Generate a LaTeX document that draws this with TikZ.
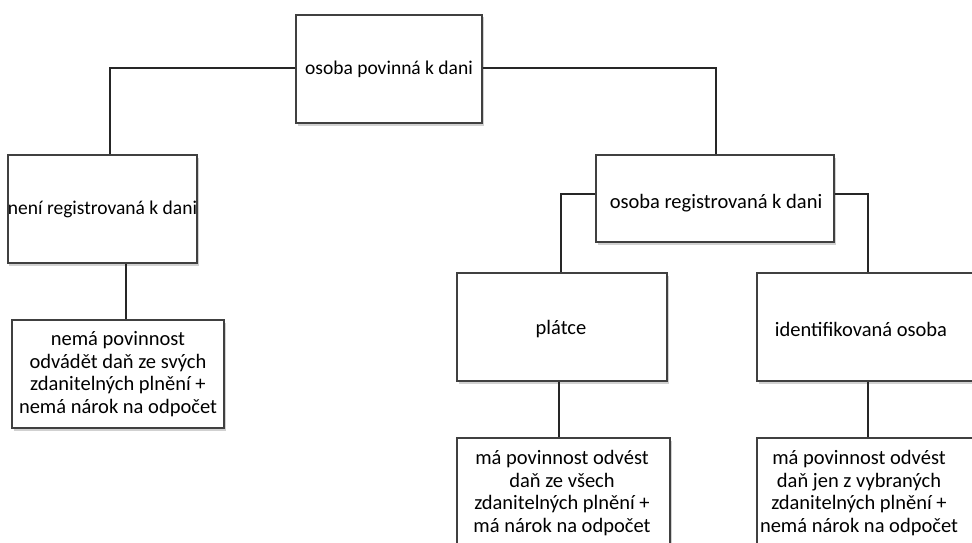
\documentclass[tikz,border=0pt]{standalone}
\usepackage{fontspec}
\setmainfont{Carlito}
\usetikzlibrary{shadows}
\begin{document}
\begin{tikzpicture}[x=1pt,y=-1pt,
  box/.style={draw=black!75, line width=1.8pt, fill=white, rectangle,
    inner sep=0pt, align=center, font=\fontsize{20.5}{22.7}\selectfont,
    drop shadow={shadow xshift=1.5pt, shadow yshift=-2.5pt, opacity=0.4, fill=black!45}},
  link/.style={draw=black!85, line width=1.2pt},
  lbl/.style={font=\fontsize{20.5}{22.7}\selectfont, inner sep=0pt, align=center}]
\useasboundingbox (0,0) rectangle (972,543);
\clip (0,0) rectangle (972,543);
% boxes
\node[box, minimum width=186pt, minimum height=108pt, font=\fontsize{19.5}{22.7}\selectfont] (top) at (389,69) {osoba povinná k dani};
\node[box, minimum width=185pt, minimum height=108pt, font=\fontsize{19.5}{22.7}\selectfont] (neni) at (102.5,209) {není registrovaná k dani};
\node[box, minimum width=212pt, minimum height=108pt] (l2) at (118,374) {nemá povinnost\\odvádět daň ze svých\\zdanitelných plnění +\\nemá nárok na odpočet};
\node[box, minimum width=238pt, minimum height=87pt] (reg) at (715,198.5) {};
\node[lbl] (regt) at (716,203) {osoba registrovaná k dani};
\node[box, minimum width=210pt, minimum height=108pt] (platce) at (562,327) {};
\node[lbl] (platcet) at (561,329) {plátce};
\node[box, minimum width=232pt, minimum height=108pt] (ident) at (873,327) {};
\node[lbl] (identt) at (861,329) {identifikovaná osoba};
\node[box, minimum width=213pt, minimum height=108pt] (p2) at (563.5,492) {};
\node[lbl] (p2t) at (562,493) {má povinnost odvést\\daň ze všech\\zdanitelných plnění +\\má nárok na odpočet};
\node[box, minimum width=232pt, minimum height=108pt] (i2) at (873,492) {};
\node[lbl] (i2t) at (859,493) {má povinnost odvést\\daň jen z vybraných\\zdanitelných plnění +\\nemá nárok na odpočet};
% connectors
\draw[link] ([yshift=1pt]top.west) -| ([xshift=7.5pt]neni.north);
\draw[link] ([yshift=1pt]top.east) -| ([xshift=1pt]reg.north);
\draw[link] ([xshift=23.5pt]neni.south) -- ([xshift=8pt]l2.north);
\draw[link] ([yshift=4.5pt]reg.west) -| ([xshift=-1pt]platce.north);
\draw[link] ([yshift=4.5pt]reg.east) -| ([xshift=-5pt]ident.north);
\draw[link] ([xshift=-3pt]platce.south) -- ([xshift=-4.5pt]p2.north);
\draw[link] ([xshift=-5pt]ident.south) -- ([xshift=-5pt]i2.north);
\end{tikzpicture}
\end{document}
